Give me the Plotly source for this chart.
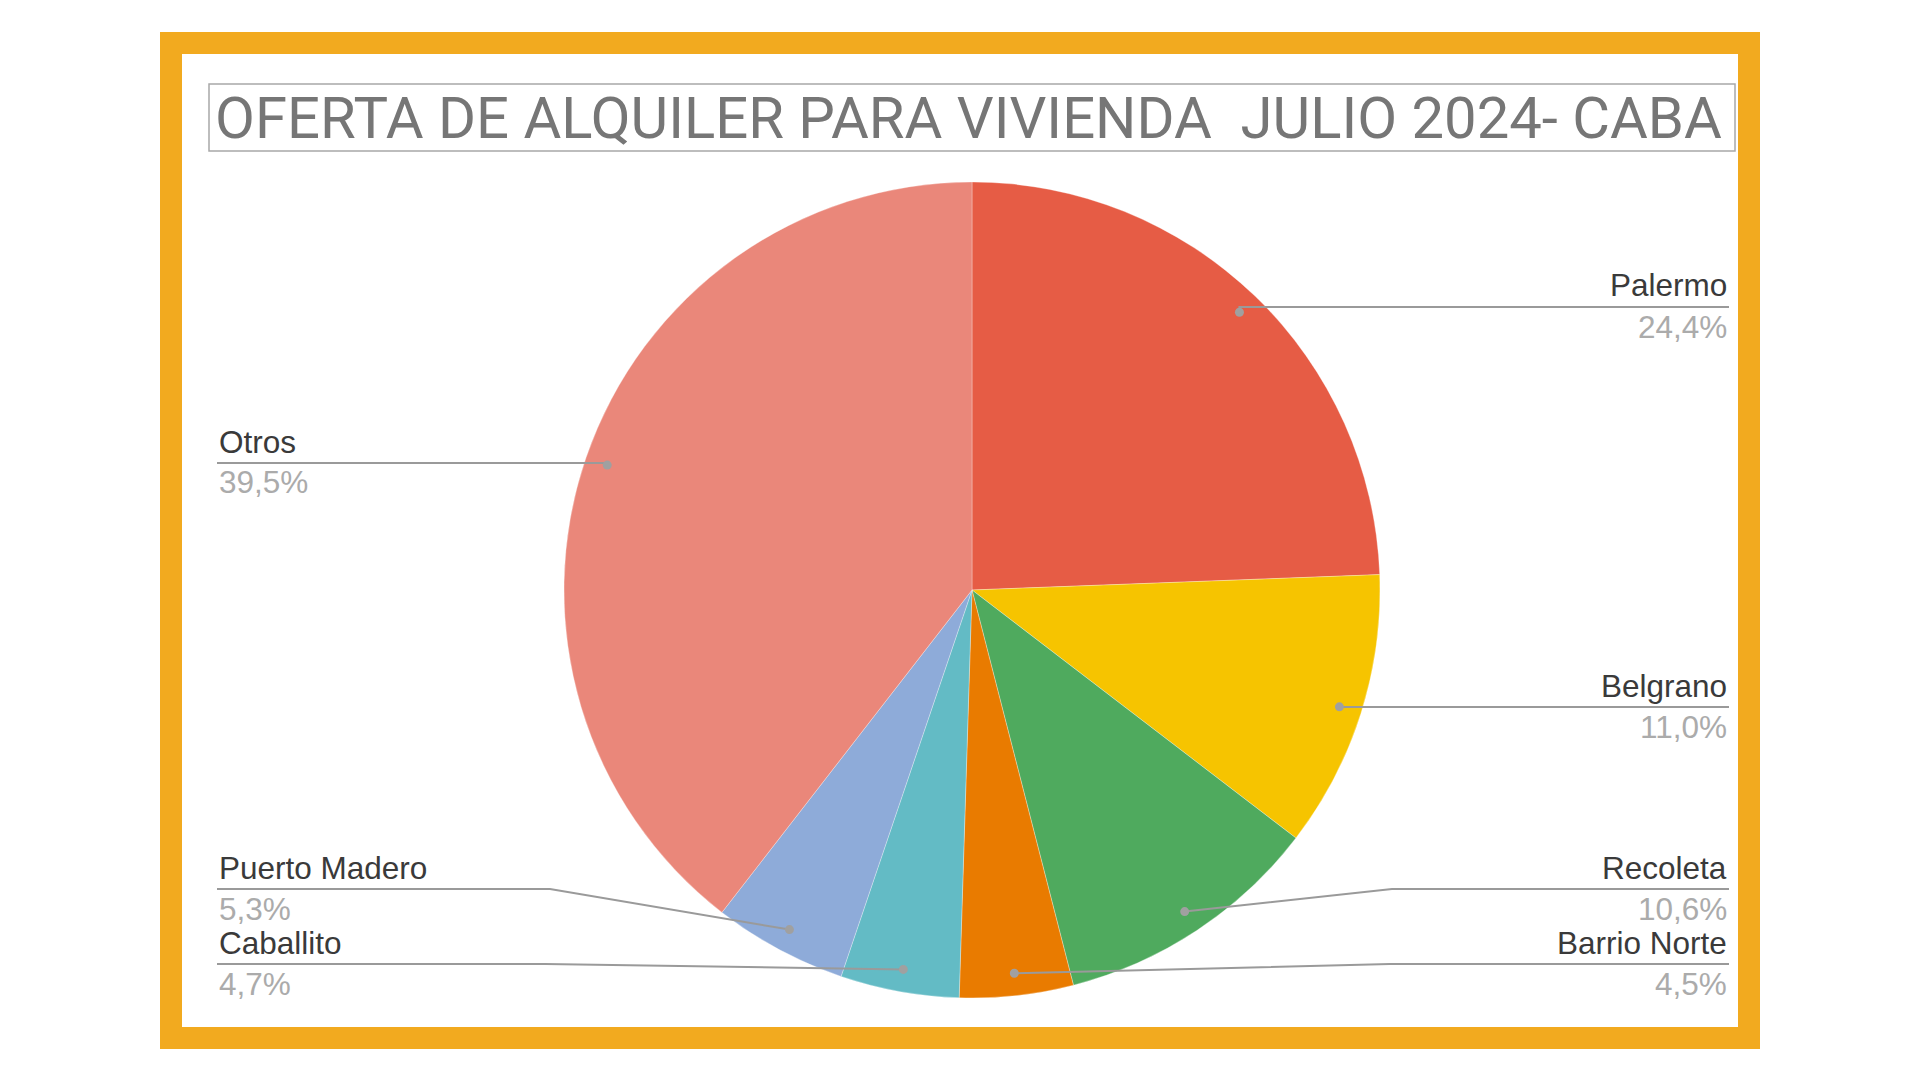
import math
import plotly.graph_objects as go

# ---- data ----
labels = ["Palermo", "Belgrano", "Recoleta", "Barrio Norte", "Caballito", "Puerto Madero", "Otros"]
values = [24.4, 11.0, 10.6, 4.5, 4.7, 5.3, 39.5]
pct_text = ["24,4%", "11,0%", "10,6%", "4,5%", "4,7%", "5,3%", "39,5%"]
colors = ["#E65C45", "#F6C400", "#4FAA5E", "#E97B00", "#63BBC5", "#8EABD9", "#EA877A"]
title_text = "OFERTA DE ALQUILER PARA VIVIENDA \u00a0JULIO 2024- CABA"

# ---- layout (pixels) ----
W, H = 1920, 1080
CX, CY, R = 972, 590, 408
label_side = ["right", "right", "right", "right", "left", "left", "left"]
label_line_y = [307, 707, 889, 964, 964, 889, 463]
elbow_x = [None, None, 1392, 1390, 545, 550, None]
RIGHT_X, LEFT_X = 1729, 217

def px(x):
    return x / W

def py(y):
    return 1 - y / H

fig = go.Figure()
fig.add_trace(go.Pie(
    labels=labels, values=values, sort=False, direction="clockwise", rotation=0,
    marker=dict(colors=colors, line=dict(color="rgba(255,255,255,0.5)", width=0.6)),
    textinfo="none", hoverinfo="label+percent", showlegend=False,
    domain=dict(x=[px(CX - R), px(CX + R)], y=[py(CY + R), py(CY - R)]),
))

shapes = []
annotations = []

# frame
shapes.append(dict(type="rect", xref="paper", yref="paper", layer="below",
                   x0=px(171), x1=px(1749), y0=py(43), y1=py(1038),
                   line=dict(color="#F2AA1F", width=22), fillcolor="white"))
# title box
shapes.append(dict(type="rect", xref="paper", yref="paper", layer="above",
                   x0=px(209), x1=px(1735), y0=py(84), y1=py(151),
                   line=dict(color="#A8A8A8", width=1.5)))
annotations.append(dict(text=title_text, xref="paper", yref="paper", x=px(968), y=py(118),
                        xanchor="center", yanchor="middle", showarrow=False,
                        font=dict(family="Roboto", size=58, color="#767676")))

total = sum(values)
cum = 0.0
rd = 0.945 * R
for i, v in enumerate(values):
    theta = 2 * math.pi * (cum + v / 2) / total
    cum += v
    dx = CX + rd * math.sin(theta)
    dy = CY - rd * math.cos(theta)
    ly = label_line_y[i]
    end_x = RIGHT_X if label_side[i] == "right" else LEFT_X
    ex = elbow_x[i] if elbow_x[i] is not None else dx
    path = f"M {px(dx)},{py(dy)} L {px(ex)},{py(ly)} L {px(end_x)},{py(ly)}"
    shapes.append(dict(type="path", xref="paper", yref="paper", layer="above", path=path,
                       line=dict(color="#9A9A9A", width=2)))
    rr = 4.5
    shapes.append(dict(type="circle", xref="paper", yref="paper", layer="above",
                       x0=px(dx - rr), x1=px(dx + rr), y0=py(dy + rr), y1=py(dy - rr),
                       fillcolor="#A0A0A0", line=dict(width=0)))
    anchor = "right" if label_side[i] == "right" else "left"
    annotations.append(dict(text=labels[i], xref="paper", yref="paper", x=px(end_x), y=py(ly - 1.5),
                            xanchor=anchor, yanchor="bottom", showarrow=False,
                            font=dict(family="Liberation Sans", size=31.5, color="#3A3A3A")))
    annotations.append(dict(text=pct_text[i], xref="paper", yref="paper", x=px(end_x), y=py(ly - 0.5),
                            xanchor=anchor, yanchor="top", showarrow=False,
                            font=dict(family="Liberation Sans", size=31.5, color="#ABABAB")))

fig.update_layout(width=W, height=H, margin=dict(l=0, r=0, t=0, b=0),
                  paper_bgcolor="white", plot_bgcolor="white",
                  shapes=shapes, annotations=annotations)

fig.write_html("out.html")
